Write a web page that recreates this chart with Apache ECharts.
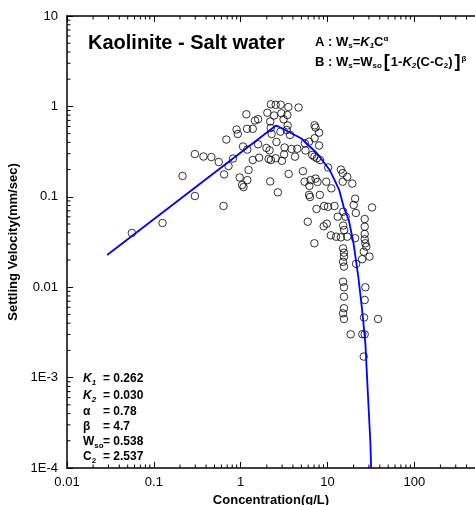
<!DOCTYPE html>
<html><head><meta charset="utf-8">
<script src="https://cdn.jsdelivr.net/npm/echarts@6/dist/echarts.min.js"></script>
<style>html,body{margin:0;padding:0;background:#fff}#c{width:475px;height:505px}</style>
</head><body><div id="c"></div>
<script>
// measured data: concentration (g/L) and settling velocity (mm/sec)
const conc = [0.0558,0.126,0.214,0.297,0.634,0.297,0.373,0.460,0.559,0.725,0.817,0.645,0.684,0.897,0.927,1.065,0.975,1.039,1.079,1.164,1.185,1.379,1.462,1.589,1.194,1.589,1.379,1.630,1.980,2.152,2.099,2.230,2.531,1.234,1.194,2.191,2.230,2.531,2.031,2.425,2.191,2.219,2.276,2.583,2.683,2.894,3.544,4.645,2.946,3.455,3.122,3.482,3.396,2.872,3.700,3.203,3.852,4.484,4.229,3.162,2.991,3.571,5.220,5.492,5.586,6.136,7.107,7.289,8.004,7.107,8.004,6.671,7.066,7.570,8.230,5.447,6.185,6.391,7.289,7.666,6.136,6.293,8.166,9.676,11.07,10.18,14.26,14.99,16.88,14.99,19.31,20.83,20.05,21.21,32.6,7.475,9.153,10.13,12.03,13.11,15.18,16.18,5.923,9.036,9.824,15.18,15.57,26.83,26.83,26.83,26.83,27.3,28.0,26.16,30.45,25.06,10.93,12.56,14.26,16.88,20.83,7.066,15.11,15.49,15.49,15.11,15.49,21.37,15.11,15.49,15.49,15.49,15.11,15.49,27.3,26.83,26.35,38.2,18.49,25.18,26.83,26.16];
const vel = [0.0398,0.0513,0.170,0.102,0.0791,0.297,0.279,0.275,0.243,0.219,0.265,0.177,0.430,0.555,0.495,0.360,0.1635,0.135,0.128,0.818,0.565,0.565,0.698,0.722,0.333,0.381,0.255,0.271,0.347,0.327,0.262,0.255,0.267,0.198,0.153,0.148,1.055,1.041,0.850,0.793,0.681,0.577,0.495,0.404,0.112,1.044,0.985,0.972,0.839,0.803,0.720,0.615,0.548,0.525,0.483,0.351,0.338,0.340,0.278,0.294,0.250,0.179,0.192,0.391,0.325,0.407,0.618,0.584,0.512,0.444,0.369,0.290,0.278,0.267,0.255,0.147,0.132,0.153,0.159,0.146,0.105,0.0995,0.105,0.147,0.124,0.211,0.200,0.183,0.166,0.147,0.140,0.0953,0.0812,0.0662,0.0763,0.0733,0.0791,0.0775,0.0791,0.0602,0.0684,0.0602,0.0530,0.0472,0.0504,0.0481,0.0429,0.0568,0.0467,0.0388,0.0339,0.0306,0.0281,0.0247,0.0218,0.0204,0.0375,0.0362,0.0356,0.0362,0.0348,0.0306,0.0269,0.0241,0.0218,0.0191,0.0169,0.0181,0.0115,0.00998,0.00785,0.00585,0.00514,0.00445,0.00998,0.00722,0.00462,0.00445,0.00301,0.00302,0.00301,0.00171];
// fitted curve (A then B)
const fitConc = [0.029,2.53,2.752,4.962,7.570,10.6,13.65,15.49,17.58,19.95,22.64,25.06,27.3,29.17,31.22,31.8];
const fitVel = [0.0227,0.612,0.596,0.444,0.303,0.198,0.119,0.0752,0.0554,0.0306,0.01306,0.0056,0.00241,0.000676,0.000188,0.0001];
// ticks
const xTickVals = [0.01,0.1,1,10,100];
const xTickLabels = ['0.01','0.1','1','10','100'];
const yTickVals = [0.0001,0.001,0.01,0.1,1,10];
const yTickLabels = ['1E-4','1E-3','0.01','0.1','1','10'];
const xMinor = [0.02,0.03,0.04,0.05,0.06,0.07,0.08,0.09,0.2,0.3,0.4,0.5,0.6,0.7,0.8,0.9,2,3,4,5,6,7,8,9,20,30,40,50,60,70,80,90,200,300,400];
const yMinor = [0.0002,0.0003,0.0004,0.0005,0.0006,0.0007,0.0008,0.0009,0.002,0.003,0.004,0.005,0.006,0.007,0.008,0.009,0.02,0.03,0.04,0.05,0.06,0.07,0.08,0.09,0.2,0.3,0.4,0.5,0.6,0.7,0.8,0.9,2,3,4,5,6,7,8,9];

const FONT = '"Liberation Sans", Arial, sans-serif';
function lookup(vals, labels, v) {
  let best = 0, bd = Infinity;
  vals.forEach((t, i) => { const d = Math.abs(Math.log10(t) - Math.log10(v)); if (d < bd) { bd = d; best = i; } });
  return bd < 0.01 ? labels[best] : '';
}
const chart = echarts.init(document.getElementById('c'), null, {renderer: 'canvas'});
const axisCommon = {
  type: 'log', logBase: 10,
  axisLine: {show: true, lineStyle: {color: '#000', width: 1.5}},
  axisTick: {show: true, inside: true, length: 6, lineStyle: {color: '#000', width: 1}},
  splitLine: {show: false}, minorTick: {show: false}
};
const rich = {
  n: {fontFamily: FONT, fontSize: 13, fontWeight: 'bold', fill: '#000'},
  i: {fontFamily: FONT, fontSize: 13, fontWeight: 'bold', fontStyle: 'italic'},
  sub: {fontFamily: FONT, fontSize: 8, fontWeight: 'bold', padding: [7, 0, 0, 0]},
  isub: {fontFamily: FONT, fontSize: 8, fontWeight: 'bold', fontStyle: 'italic', padding: [7, 0, 0, 0]},
  sup: {fontFamily: FONT, fontSize: 8, fontWeight: 'bold', padding: [0, 0, 7, 0]},
  br: {fontFamily: FONT, fontSize: 18, fontWeight: 'bold', padding: [0, 1, 0, 2]},
  p: {fontFamily: FONT, fontSize: 12, fontWeight: 'bold', fill: '#000'},
  pi: {fontFamily: FONT, fontSize: 12, fontWeight: 'bold', fontStyle: 'italic'}
};
const params = [
  ['{pi|K}{isub|1}', '= 0.262'],
  ['{pi|K}{isub|2}', '= 0.030'],
  ['{p|α}', '= 0.78'],
  ['{p|β}', '= 4.7'],
  ['{p|W}{sub|so}', '= 0.538'],
  ['{p|C}{sub|2}', '= 2.537']
];
const paramY = [380, 397, 413, 428, 443, 458];
const graphics = [
  {type: 'text', left: 88, top: 33, z: 100, style: {text: 'Kaolinite - Salt water', font: 'bold 20px ' + FONT, fill: '#000'}},
  {type: 'text', left: 315, top: 35, z: 100, style: {text: '{n|A : W}{sub|s}{n|=}{i|K}{isub|1}{n|C}{sup|α}', rich: rich}},
  {type: 'text', left: 315, top: 53, z: 100, style: {text: '{n|B : W}{sub|s}{n|=W}{sub|so}{br|[}{n|1-}{i|K}{isub|2}{n|(C-C}{sub|2}{n|)}{br|]}{sup|β}', rich: rich}}
];
params.forEach((p, k) => {
  graphics.push({type: 'text', left: 83, top: paramY[k] - 7, z: 100, style: {text: p[0], rich: rich}});
  graphics.push({type: 'text', left: 103, top: paramY[k] - 7, z: 100, style: {text: '{p|' + p[1] + '}', rich: rich}});
});

chart.setOption({
  animation: false,
  backgroundColor: '#fff',
  grid: {left: 67, top: 16, bottom: 37, right: 0, containLabel: false, outerBoundsMode: 'none', show: false},
  xAxis: [
    Object.assign({}, axisCommon, {min: 0.01, max: 500, position: 'bottom',
      axisLabel: {show: true, fontSize: 13, color: '#000', fontFamily: FONT, margin: 8,
        formatter: v => lookup(xTickVals, xTickLabels, v)},
      name: 'Concentration(g/L)', nameLocation: 'middle', nameGap: 15,
      nameTextStyle: {fontSize: 13, fontWeight: 'bold', color: '#000', fontFamily: FONT}}),
    Object.assign({}, axisCommon, {min: 0.01, max: 500, position: 'top', axisLabel: {show: false}})
  ],
  yAxis: [
    Object.assign({}, axisCommon, {min: 0.0001, max: 10, position: 'left',
      axisLabel: {show: true, fontSize: 13, color: '#000', fontFamily: FONT, margin: 9,
        formatter: v => lookup(yTickVals, yTickLabels, v)},
      name: 'Settling Velocity(mm/sec)', nameLocation: 'middle', nameGap: 43,
      nameTextStyle: {fontSize: 13, fontWeight: 'bold', color: '#000', fontFamily: FONT}})
  ],
  graphic: graphics,
  series: [
    {type: 'scatter', xAxisIndex: 0, yAxisIndex: 0, symbol: 'circle', symbolSize: 7.5,
      data: conc.map((c, i) => [c, vel[i]]),
      itemStyle: {color: 'rgba(0,0,0,0)', borderColor: '#000', borderWidth: 1}, z: 2},
    {type: 'line', xAxisIndex: 0, yAxisIndex: 0, showSymbol: false, symbol: 'none', clip: true,
      data: fitConc.map((c, i) => [c, fitVel[i]]),
      lineStyle: {color: '#0000ff', width: 1.8}, z: 3},
    {type: 'custom', xAxisIndex: 0, yAxisIndex: 0, clip: false, silent: true, z: 4,
      data: xMinor.map(v => [v, 0.0001]), encode: {x: 0, y: 1},
      renderItem: (params, api) => {
        const v = api.value(0);
        const b = api.coord([v, 0.0001]);
        const t = api.coord([v, 10]);
        return {type: 'group', children: [
          {type: 'line', shape: {x1: b[0], y1: b[1], x2: b[0], y2: b[1] - 3.5}, style: {stroke: '#000', lineWidth: 1}},
          {type: 'line', shape: {x1: t[0], y1: t[1], x2: t[0], y2: t[1] + 3.5}, style: {stroke: '#000', lineWidth: 1}}
        ]};
      }},
    {type: 'custom', xAxisIndex: 0, yAxisIndex: 0, clip: false, silent: true, z: 4,
      data: yMinor.map(v => [0.01, v]), encode: {x: 0, y: 1},
      renderItem: (params, api) => {
        const v = api.value(1);
        const l = api.coord([0.01, v]);
        return {type: 'line', shape: {x1: l[0], y1: l[1], x2: l[0] + 3.5, y2: l[1]}, style: {stroke: '#000', lineWidth: 1}};
      }}
  ]
});
</script>
</body></html>
